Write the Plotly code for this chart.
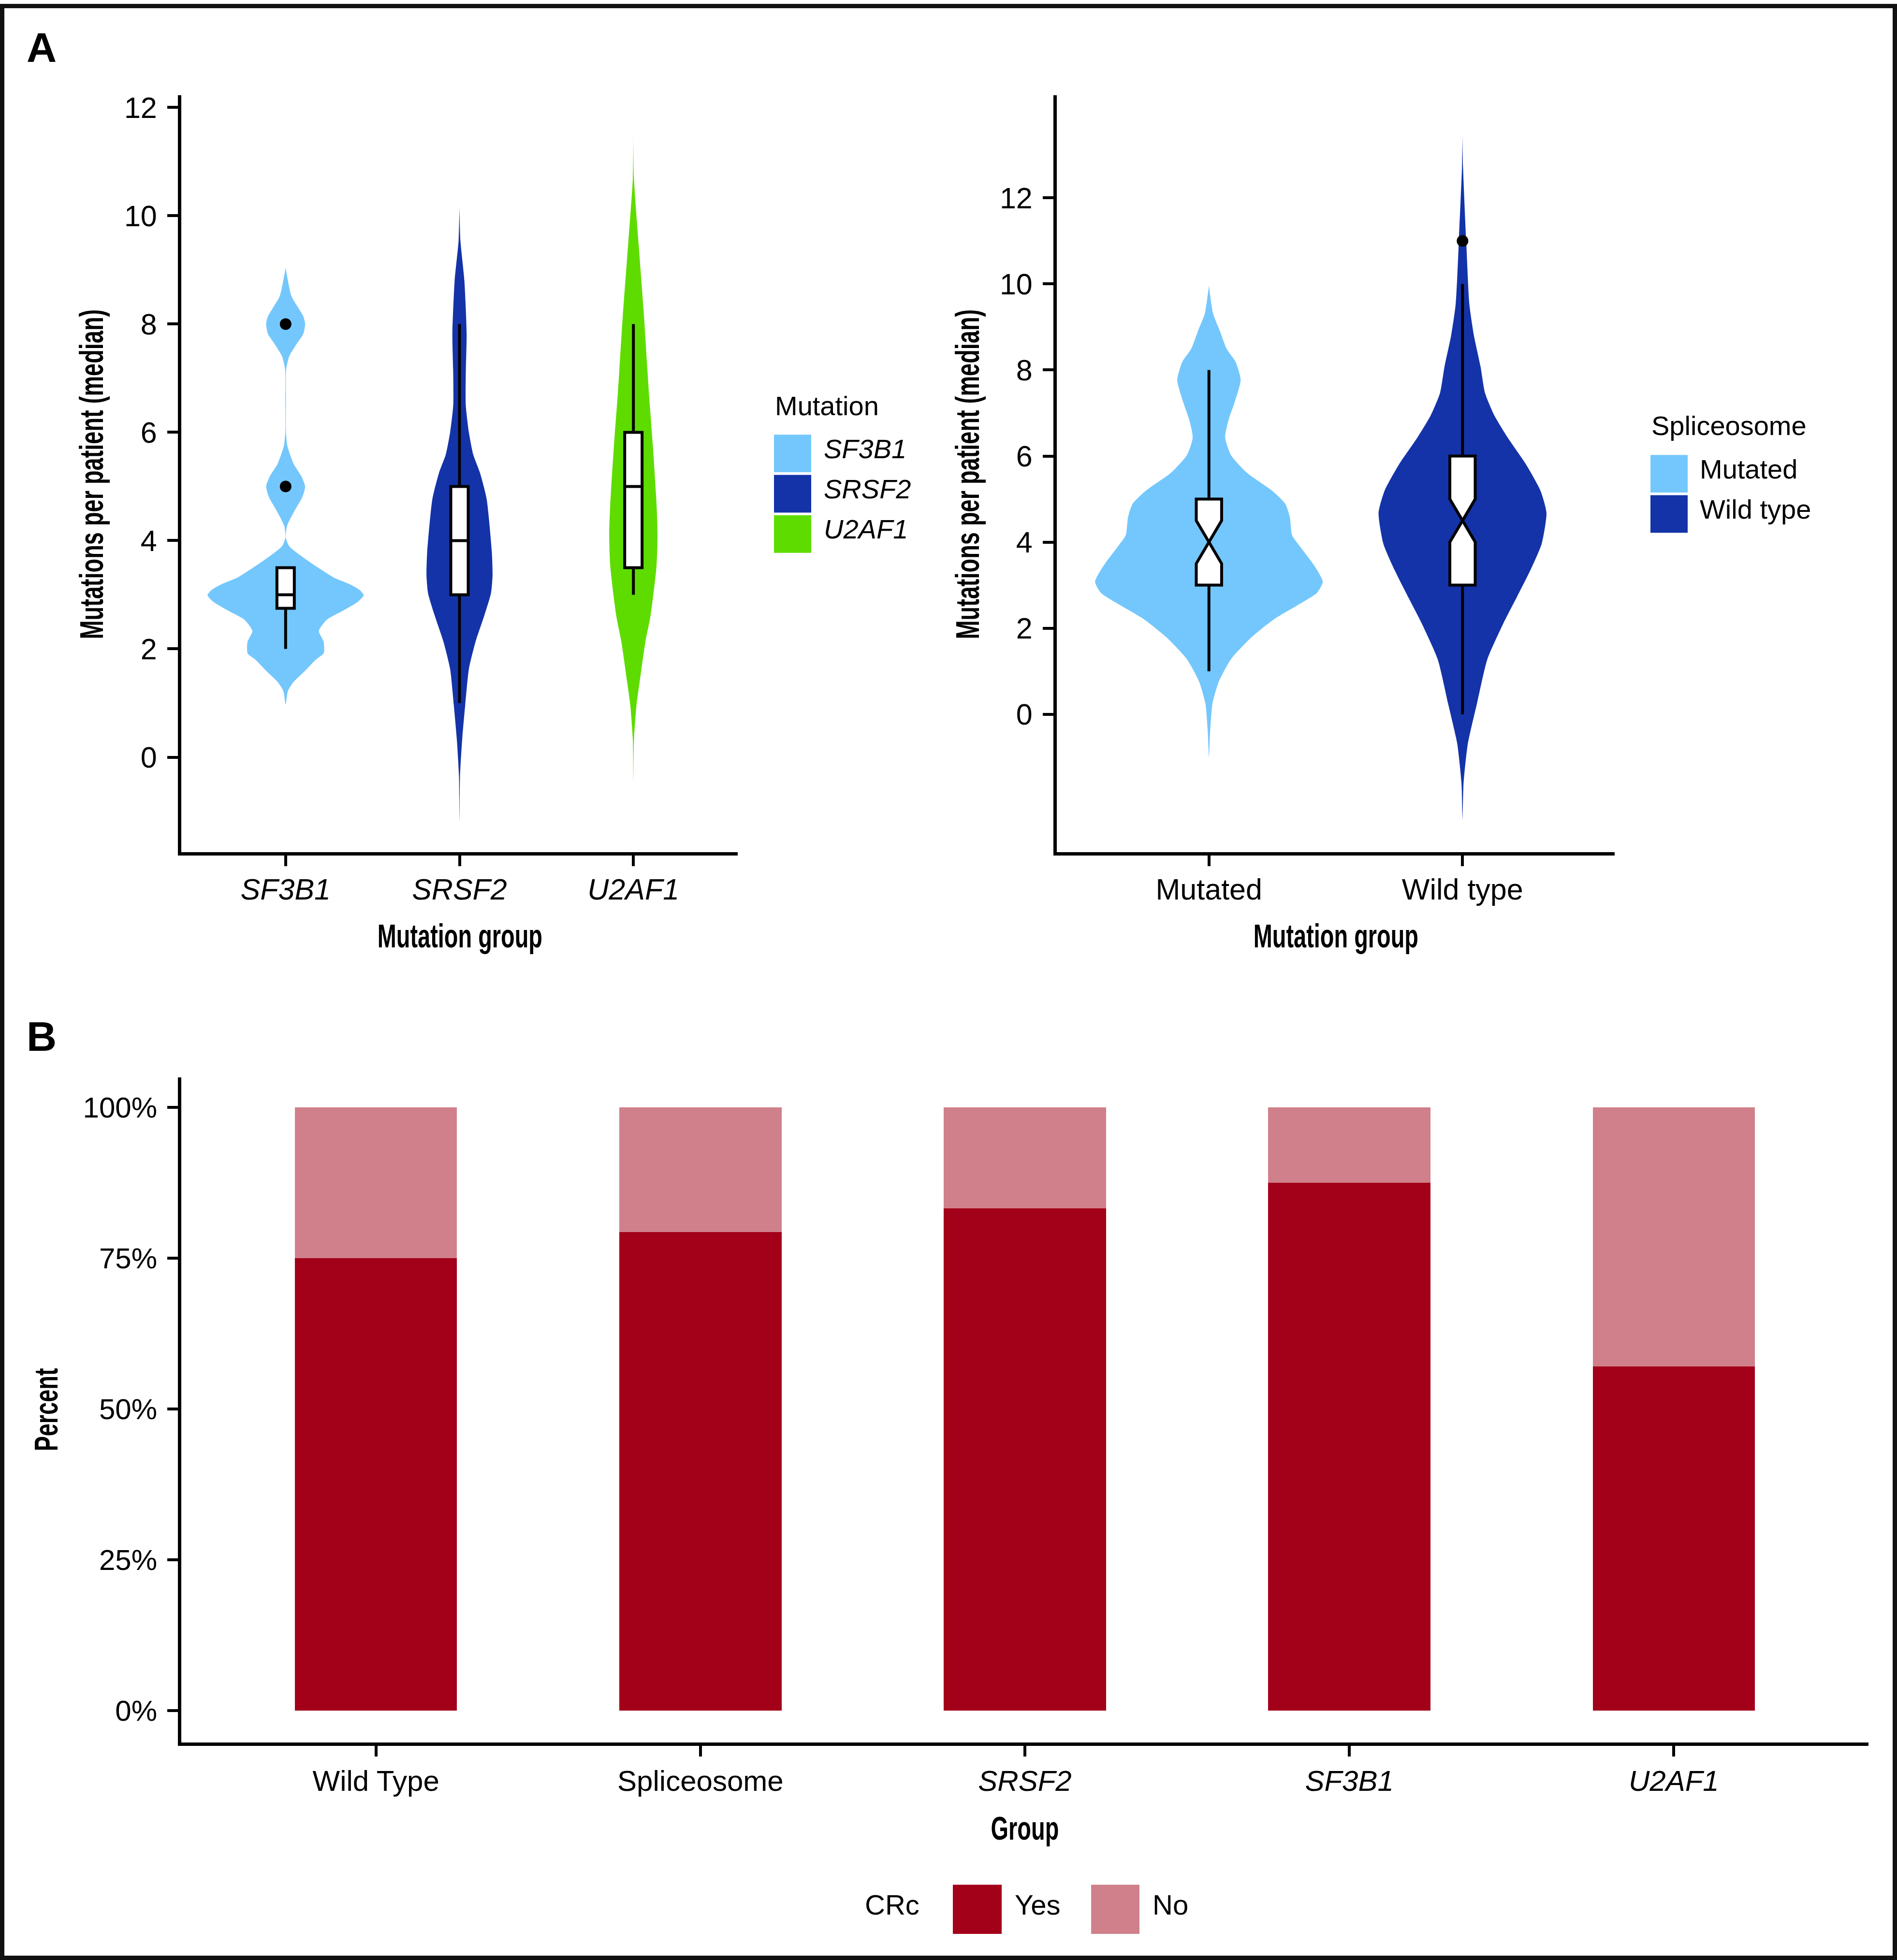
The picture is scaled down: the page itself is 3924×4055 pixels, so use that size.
import plotly.graph_objects as go

W, H = 3924, 4055

# ---------------- DATA ----------------
mutation_groups = ["SF3B1", "SRSF2", "U2AF1"]
spliceosome_groups = ["Mutated", "Wild type"]
crc_groups = ["Wild Type", "Spliceosome", "SRSF2", "SF3B1", "U2AF1"]
crc_groups_label = ["Wild Type", "Spliceosome", "<i>SRSF2</i>", "<i>SF3B1</i>", "<i>U2AF1</i>"]
crc_yes_pct = [75.0, 79.3, 83.3, 87.5, 57.1]
crc_no_pct = [25.0, 20.7, 16.7, 12.5, 42.9]
pct_ticks = [0, 25, 50, 75, 100]
pct_tick_labels = ["0%", "25%", "50%", "75%", "100%"]
count_ticks = [0, 2, 4, 6, 8, 10, 12]

# violin density profiles: value levels and half-widths (category units)
sf3b1_dens_y = [0.97, 1.22, 1.39, 1.59, 1.80, 1.92, 2.13, 2.33, 2.54, 2.70, 2.87, 2.99, 3.08, 3.20,
                3.32, 3.53, 3.73, 3.90, 4.06, 4.27, 4.52, 4.81, 5.00, 5.18, 5.42, 5.75, 6.00, 6.60,
                7.16, 7.40, 7.61, 7.82, 8.00, 8.14, 8.31, 8.52, 9.04]
sf3b1_dens_w = [0, 0.013, 0.046, 0.110, 0.173, 0.219, 0.219, 0.191, 0.237, 0.327, 0.416, 0.449, 0.429, 0.365,
                0.276, 0.173, 0.084, 0.020, 0.001, 0.008, 0.046, 0.097, 0.112, 0.092, 0.046, 0.010, 0.002, 0.002,
                0.003, 0.020, 0.059, 0.102, 0.112, 0.102, 0.071, 0.033, 0]
srsf2_dens_y = [-1.17, -0.35, 0.31, 0.97, 1.63, 2.13, 2.62, 3.03, 3.36, 3.78, 4.77, 5.26, 5.59, 6.00,
                6.50, 7.07, 7.82, 8.80, 9.55, 10.16]
srsf2_dens_w = [0, 0.003, 0.015, 0.033, 0.054, 0.092, 0.143, 0.181, 0.190, 0.186, 0.156, 0.117, 0.079, 0.054,
                0.036, 0.036, 0.041, 0.028, 0.005, 0]
u2af1_dens_y = [-0.47, 0.31, 0.97, 1.39, 2.13, 2.62, 3.53, 4.11, 4.68, 5.75, 6.74, 8.15, 9.22, 10.70, 11.48]
u2af1_dens_w = [0, 0.003, 0.018, 0.036, 0.069, 0.099, 0.133, 0.139, 0.133, 0.112, 0.089, 0.061, 0.036, 0.003, 0]
mutated_dens_y = [-0.99, -0.37, 0.25, 0.76, 1.28, 1.79, 2.21, 2.52, 2.82, 3.08, 3.44, 3.86, 4.16, 4.58,
                  4.89, 5.20, 5.61, 6.02, 6.43, 6.85, 7.26, 7.77, 8.19, 8.49, 8.91, 9.32, 9.96]
mutated_dens_w = [0, 0.005, 0.014, 0.039, 0.087, 0.168, 0.257, 0.346, 0.426, 0.449, 0.417, 0.364, 0.328, 0.319,
                  0.301, 0.248, 0.150, 0.087, 0.064, 0.078, 0.102, 0.125, 0.105, 0.070, 0.043, 0.016, 0]
wildtype_dens_y = [-2.43, -1.61, -0.68, 0.25, 1.28, 2.10, 2.72, 3.34, 3.96, 4.68, 5.20, 5.81, 6.43, 6.95,
                   7.46, 8.08, 8.80, 9.53, 11.07, 12.72, 13.44]
wildtype_dens_w = [0, 0.004, 0.021, 0.057, 0.098, 0.160, 0.214, 0.267, 0.312, 0.331, 0.307, 0.250, 0.178, 0.125,
                   0.089, 0.071, 0.045, 0.027, 0.014, 0.002, 0]

# box statistics
mut_q1 = [2.75, 3.0, 3.5]
mut_median = [3.0, 4.0, 5.0]
mut_q3 = [3.5, 5.0, 6.0]
mut_lower = [2.0, 1.0, 3.0]
mut_upper = [3.5, 8.0, 8.0]
mut_outlier_group = [0, 0]
mut_outlier_value = [8.0, 5.0]

spl_q1 = [3.0, 3.0]
spl_median = [4.0, 4.5]
spl_q3 = [5.0, 6.0]
spl_lower = [1.0, 0.0]
spl_upper = [8.0, 10.0]
spl_notch = [0.5, 0.5]
spl_outlier_group = [1]
spl_outlier_value = [11.0]

# ---------------- STYLE ----------------
COL_LIGHT = "#74C7FC"
COL_DARK = "#1433A8"
COL_GREEN = "#5EDC00"
COL_YES = "#A30019"
COL_NO = "#D0808A"
mutation_colors = [COL_LIGHT, COL_DARK, COL_GREEN]
spliceosome_colors = [COL_LIGHT, COL_DARK]

SANS = "Liberation Sans, Arial, Helvetica, sans-serif"

LEFT_XR = [-0.6, 2.6]
LEFT_YR = [-1.75, 12.23]
RIGHT_XR = [-0.6, 1.6]
RIGHT_YR = [-3.2, 14.39]


def px(x):
    return x / W


def py(y):
    return 1 - y / H


fig = go.Figure()


def add_violin(center, ys, ws, color, xa, ya):
    xs = [center - w for w in ws] + [center + w for w in reversed(ws)]
    yy = list(ys) + list(reversed(ys))
    fig.add_trace(go.Scatter(x=xs, y=yy, mode="lines", fill="toself", fillcolor=color,
                             line=dict(width=0, color=color, shape="spline", smoothing=0.6),
                             hoverinfo="skip", showlegend=False, xaxis=xa, yaxis=ya))


def add_box(i, q1, med, q3, lo, hi, xa, ya, notch=None):
    kw = {}
    if notch is not None:
        kw = dict(notched=True, notchspan=[notch], notchwidth=0.5)
    fig.add_trace(go.Box(x=[i], q1=[q1], median=[med], q3=[q3], lowerfence=[lo], upperfence=[hi],
                         orientation="v", width=0.1, fillcolor="white",
                         line=dict(color="black", width=6), whiskerwidth=0, boxpoints=False,
                         showlegend=False, hoverinfo="skip", xaxis=xa, yaxis=ya, **kw))


# Panel A left: violins on (x, y); boxes on overlay (x4, y4) so they sit on top
add_violin(0, sf3b1_dens_y, sf3b1_dens_w, mutation_colors[0], "x", "y")
add_violin(1, srsf2_dens_y, srsf2_dens_w, mutation_colors[1], "x", "y")
add_violin(2, u2af1_dens_y, u2af1_dens_w, mutation_colors[2], "x", "y")
for i in range(len(mutation_groups)):
    add_box(i, mut_q1[i], mut_median[i], mut_q3[i], mut_lower[i], mut_upper[i], "x4", "y4")
fig.add_trace(go.Scatter(x=mut_outlier_group, y=mut_outlier_value, mode="markers",
                         marker=dict(color="black", size=24), showlegend=False, xaxis="x4", yaxis="y4"))

# Panel A right: violins on (x2, y2); boxes on overlay (x5, y5)
add_violin(0, mutated_dens_y, mutated_dens_w, spliceosome_colors[0], "x2", "y2")
add_violin(1, wildtype_dens_y, wildtype_dens_w, spliceosome_colors[1], "x2", "y2")
for i in range(len(spliceosome_groups)):
    add_box(i, spl_q1[i], spl_median[i], spl_q3[i], spl_lower[i], spl_upper[i], "x5", "y5",
            notch=spl_notch[i])
fig.add_trace(go.Scatter(x=spl_outlier_group, y=spl_outlier_value, mode="markers",
                         marker=dict(color="black", size=24), showlegend=False, xaxis="x5", yaxis="y5"))

# Panel B
xb = list(range(len(crc_groups)))
fig.add_trace(go.Bar(x=xb, y=crc_yes_pct, marker=dict(color=COL_YES, line=dict(width=0)), width=0.5,
                     showlegend=False, xaxis="x3", yaxis="y3"))
fig.add_trace(go.Bar(x=xb, y=crc_no_pct, marker=dict(color=COL_NO, line=dict(width=0)), width=0.5,
                     showlegend=False, xaxis="x3", yaxis="y3"))

axis_common = dict(showline=True, linecolor="black", linewidth=7, ticks="outside", ticklen=22,
                   tickwidth=6, tickcolor="black", showgrid=False, zeroline=False,
                   tickfont=dict(family=SANS, size=61, color="black"), fixedrange=True)
hidden = dict(visible=False, showgrid=False, zeroline=False, fixedrange=True)

fig.update_layout(
    width=W, height=H, margin=dict(l=0, r=0, t=0, b=0),
    paper_bgcolor="white", plot_bgcolor="white", barmode="stack",
    boxmode="overlay", boxgap=0, boxgroupgap=0,
    showlegend=False,
    xaxis=dict(axis_common, domain=[px(375), px(1526)], range=LEFT_XR,
               tickvals=[0, 1, 2], ticktext=["<i>%s</i>" % g for g in mutation_groups],
               anchor="y", ticklabelstandoff=-4),
    yaxis=dict(axis_common, domain=[py(1758), py(189)], range=LEFT_YR,
               tickvals=count_ticks, anchor="x", ticklabelstandoff=9),
    xaxis4=dict(hidden, overlaying="x", range=LEFT_XR, anchor="y4"),
    yaxis4=dict(hidden, overlaying="y", range=LEFT_YR, anchor="x4"),
    xaxis2=dict(axis_common, domain=[px(2186), px(3340)], range=RIGHT_XR,
                tickvals=[0, 1], ticktext=spliceosome_groups, anchor="y2", ticklabelstandoff=-4),
    yaxis2=dict(axis_common, domain=[py(1758), py(189)], range=RIGHT_YR,
                tickvals=count_ticks, anchor="x2", ticklabelstandoff=9),
    xaxis5=dict(hidden, overlaying="x2", range=RIGHT_XR, anchor="y5"),
    yaxis5=dict(hidden, overlaying="y2", range=RIGHT_YR, anchor="x5"),
    xaxis3=dict(axis_common, domain=[px(375), px(3865)], range=[-0.6, 4.6],
                tickvals=xb, ticktext=crc_groups_label, anchor="y3", ticklabelstandoff=-1,
                tickfont=dict(family=SANS, size=60, color="black")),
    yaxis3=dict(axis_common, domain=[py(3604), py(2225)], range=[-5.25, 105],
                tickvals=pct_ticks, ticktext=pct_tick_labels, anchor="x3", ticklabelstandoff=9,
                tickfont=dict(family=SANS, size=60, color="black")),
)

ann = []


def text(x, y, s, size, weight="normal", xanchor="center", angle=0, italic=False):
    ann.append(dict(x=px(x), y=py(y), xref="paper", yref="paper", text=s, showarrow=False,
                    xanchor=xanchor, yanchor="middle", textangle=angle,
                    font=dict(family=SANS, size=size, color="black", weight=weight,
                              style="italic" if italic else "normal")))


# panel labels
text(86, 90, "A", 86, weight="bold")
text(86, 2140, "B", 86, weight="bold")
# axis titles (condensed afterwards in the browser)
text(951, 1932, "Mutation group", 68, weight="bold")
text(2763, 1932, "Mutation group", 68, weight="bold")
text(189, 975, "Mutations per patient (median)", 68, weight="bold", angle=-90)
text(2001, 975, "Mutations per patient (median)", 68, weight="bold", angle=-90)
text(95, 2915, "Percent", 68, weight="bold", angle=-90)
text(2120, 3781, "Group", 68, weight="bold")

shapes = []


def key(x0, y0, x1, y1, color):
    shapes.append(dict(type="rect", xref="paper", yref="paper", x0=px(x0), x1=px(x1),
                       y0=py(y1), y1=py(y0), fillcolor=color, line=dict(width=0)))


# legend: Mutation
text(1601, 833, "Mutation", 56, xanchor="left")
for i, g in enumerate(mutation_groups):
    top = 893 + i * 83.5
    key(1601, top, 1678, top + 78, mutation_colors[i])
    text(1702, top + 29, g, 56, xanchor="left", italic=True)

# legend: Spliceosome
text(3414, 874, "Spliceosome", 56, xanchor="left")
for i, g in enumerate(spliceosome_groups):
    top = 935 + i * 83.5
    key(3414, top, 3491, top + 78, spliceosome_colors[i])
    text(3514, top + 29, g, 56, xanchor="left")

# legend: CRc
text(1787, 3940, "CRc", 58, xanchor="left")
key(1971, 3899, 2072, 4001, COL_YES)
text(2097, 3940, "Yes", 58, xanchor="left")
key(2257, 3899, 2357, 4001, COL_NO)
text(2382, 3940, "No", 58, xanchor="left")

# outer frame (kept fully inside the page)
shapes.append(dict(type="rect", xref="paper", yref="paper", x0=px(4.5), x1=px(W - 4.5),
                   y0=py(H - 4.5), y1=py(4.5),
                   line=dict(color="#111111", width=9), fillcolor="rgba(0,0,0,0)"))

fig.update_layout(annotations=ann, shapes=shapes)

post = """
document.body.style.margin='0';
document.body.style.padding='0';
document.documentElement.style.margin='0';
document.body.style.overflow='hidden';
var gd = document.getElementById('{plot_id}');
var names = ['Mutation group','Mutations per patient (median)','Percent','Group'];
gd.querySelectorAll('text.annotation-text').forEach(function(t){
  if (names.indexOf(t.textContent) >= 0) {
    t.style.transformBox = 'fill-box';
    t.style.transformOrigin = '50% 50%';
    t.style.transform = 'scaleX(0.69)';
  }
});
"""

fig.write_html("out.html", config={"displayModeBar": False}, post_script=post)
